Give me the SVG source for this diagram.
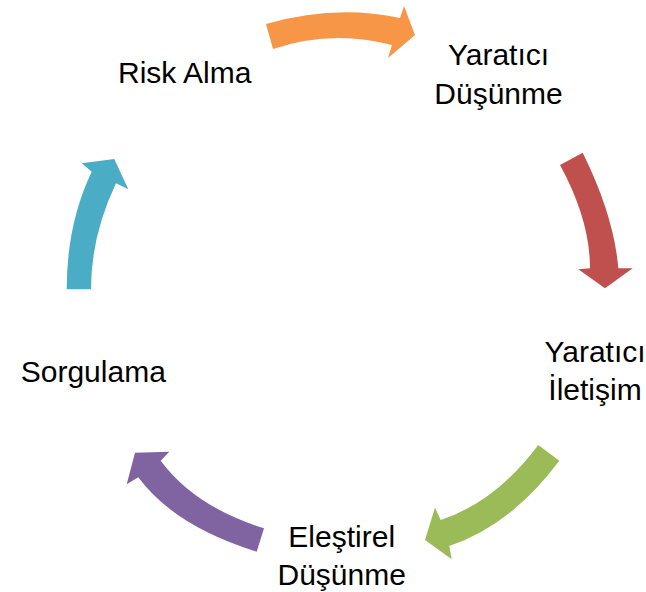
<svg xmlns="http://www.w3.org/2000/svg" width="646" height="592" viewBox="0 0 646 592">
<style>
.lbl{font-family:"Liberation Sans",Arial,sans-serif;font-size:30px;fill:#000;text-anchor:middle}
</style>
<rect width="646" height="592" fill="#fff"/>
<g id="connectors">
<path id="arrow-orange" fill="#F79646" d="M266,24 Q335,4 400,18 L404,6 L415,35 L388,58 L392,45 Q331.5,29 273,49 Z"/>
<path id="arrow-red" fill="#C0504D" d="M582.7,152.7 Q614,216 618.3,268.3 L632.7,268.3 L605,288.3 L578.3,269.3 L590,268.3 Q590,220 560,165 Z"/>
<path id="arrow-green" fill="#9BBB59" d="M559.3,460.7 Q510.7,525.6 449.3,546 L451.7,559.3 L425,540 L435,507.7 L440.7,520 Q495.9,501.7 538.3,445 Z"/>
<path id="arrow-purple" fill="#8064A2" d="M256.7,551.7 Q174.3,526 138.3,477.3 L126.7,484.3 L135,452.7 L169.3,451.7 L160.7,460.7 Q194.8,506.7 264,528.3 Z"/>
<path id="arrow-cyan" fill="#4BACC6" d="M66.7,289.3 Q66.7,224.1 91.7,171.7 L81.7,163.3 L114.3,159 L128.3,189.3 L116,183.3 Q91,235.7 91,289.3 Z"/>
</g>
<g id="node-risk-alma"><text class="lbl" x="184.7" y="83.3">Risk Alma</text></g>
<g id="node-yaratici-dusunme"><text class="lbl" x="498.5" y="65">Yaratıcı</text><text class="lbl" x="498.5" y="104">Düşünme</text></g>
<g id="node-yaratici-iletisim"><text class="lbl" x="595" y="361.7">Yaratıcı</text><text class="lbl" x="595" y="400">İletişim</text></g>
<g id="node-elestirel-dusunme"><text class="lbl" x="341.7" y="546.7">Eleştirel</text><text class="lbl" x="341.7" y="585">Düşünme</text></g>
<g id="node-sorgulama"><text class="lbl" x="93.3" y="381.7">Sorgulama</text></g>
</svg>
